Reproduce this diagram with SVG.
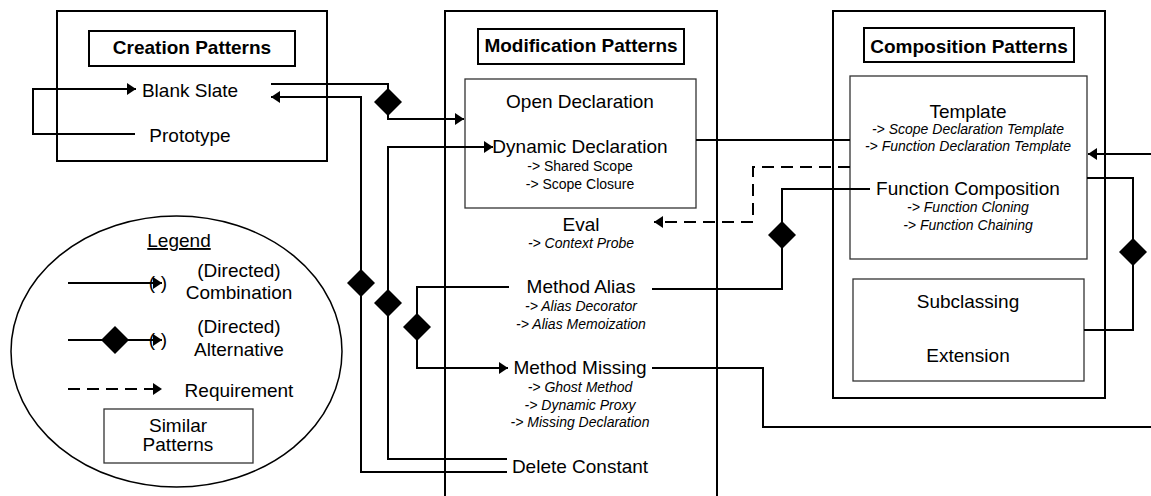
<svg xmlns="http://www.w3.org/2000/svg" width="1151" height="496" viewBox="0 0 1151 496">
<style>
text{font-family:"Liberation Sans",Arial,sans-serif;fill:#000;text-anchor:middle}
.t{font-size:19px}
.b{font-size:19px;font-weight:bold}
.s{font-size:14px;font-style:italic}
.n{font-size:14px}
.outer{fill:#fff;stroke:#000;stroke-width:2}
.title{fill:#fff;stroke:#000;stroke-width:2}
.inner{fill:#fff;stroke:#333;stroke-width:1.3}
.c{fill:none;stroke:#000;stroke-width:2}
.d{fill:none;stroke:#000;stroke-width:2;stroke-dasharray:12 7}
.dia{fill:#000}
</style>
<defs>
<marker id="arr" markerUnits="userSpaceOnUse" markerWidth="10" markerHeight="12" refX="9" refY="6" orient="auto"><path d="M0,0 L9,6 L0,12 z" fill="#000"/></marker>
<path id="dm" d="M0,-14 L14,0 L0,14 L-14,0 z"/>
</defs>
<rect width="1151" height="496" fill="#fff"/>

<g id="creation">
<rect class="outer" x="57" y="11" width="270" height="150"/>
<rect class="title" x="89" y="31" width="206" height="35"/>
<text class="b" x="192" y="54">Creation Patterns</text>
<text class="t" x="190" y="97">Blank Slate</text>
<text class="t" x="190" y="142">Prototype</text>
</g>

<g id="modification">
<rect class="outer" x="445" y="11" width="272" height="495"/>
<rect class="title" x="478" y="29" width="206" height="35"/>
<text class="b" x="581" y="52">Modification Patterns</text>
<rect class="inner" x="465" y="79" width="231" height="129"/>
<text class="t" x="580" y="108">Open Declaration</text>
<text class="t" x="580" y="153">Dynamic Declaration</text>
<text class="n" x="580" y="171">-&gt; Shared Scope</text>
<text class="n" x="580" y="189">-&gt; Scope Closure</text>
<text class="t" x="581" y="231">Eval</text>
<text class="s" x="581" y="248">-&gt; Context Probe</text>
<text class="t" x="581" y="293">Method Alias</text>
<text class="s" x="581" y="311">-&gt; Alias Decorator</text>
<text class="s" x="581" y="329">-&gt; Alias Memoization</text>
<text class="t" x="580" y="374">Method Missing</text>
<text class="s" x="580" y="392">-&gt; Ghost Method</text>
<text class="s" x="580" y="410">-&gt; Dynamic Proxy</text>
<text class="s" x="580" y="427">-&gt; Missing Declaration</text>
<text class="t" x="580" y="473">Delete Constant</text>
</g>

<g id="composition">
<rect class="outer" x="833" y="11" width="272" height="387"/>
<rect class="title" x="864" y="28" width="210" height="34"/>
<text class="b" x="969" y="53">Composition Patterns</text>
<rect class="inner" x="850" y="76" width="237" height="183"/>
<text class="t" x="968" y="118">Template</text>
<text class="s" x="968" y="134">-&gt; Scope Declaration Template</text>
<text class="s" x="968" y="151">-&gt; Function Declaration Template</text>
<text class="t" x="968" y="195">Function Composition</text>
<text class="s" x="968" y="212">-&gt; Function Cloning</text>
<text class="s" x="968" y="230">-&gt; Function Chaining</text>
<rect class="inner" x="853" y="279" width="231" height="102"/>
<text class="t" x="968" y="308">Subclassing</text>
<text class="t" x="968" y="362">Extension</text>
</g>

<g id="legend">
<ellipse cx="176.5" cy="351.5" rx="165.5" ry="135.5" fill="#fff" stroke="#000" stroke-width="1.5"/>
<text class="t" x="179" y="247" text-decoration="underline">Legend</text>
<path class="c" d="M68,283 H162" marker-end="url(#arr)"/>
<text class="t" x="152" y="289">(</text>
<text class="t" x="164" y="289">)</text>
<text class="t" x="239" y="277">(Directed)</text>
<text class="t" x="239" y="299">Combination</text>
<path class="c" d="M68,340 H162" marker-end="url(#arr)"/>
<use href="#dm" x="115" y="340" class="dia"/>
<text class="t" x="152" y="346">(</text>
<text class="t" x="164" y="346">)</text>
<text class="t" x="239" y="333">(Directed)</text>
<text class="t" x="239" y="356">Alternative</text>
<path class="d" d="M68,389 H162" marker-end="url(#arr)"/>
<text class="t" x="239" y="397">Requirement</text>
<rect class="inner" x="104" y="409" width="149" height="54"/>
<text class="t" x="178" y="432">Similar</text>
<text class="t" x="178" y="451">Patterns</text>
</g>

<g id="connectors">
<path class="c" d="M135,134 H33 V89 H136" marker-end="url(#arr)"/>
<path class="c" d="M271,84 H388 V119 H464" marker-end="url(#arr)"/>
<use href="#dm" x="388" y="102" class="dia"/>
<path class="c" d="M507,472 H361 V97 H271" marker-end="url(#arr)"/>
<use href="#dm" x="361" y="283" class="dia"/>
<path class="c" d="M507,459 H388 V147 H493" marker-end="url(#arr)"/>
<use href="#dm" x="388" y="303" class="dia"/>
<path class="c" d="M509,287 H417 V368 H508" marker-end="url(#arr)"/>
<use href="#dm" x="417" y="327" class="dia"/>
<path class="c" d="M652,289 H782 V189 H870"/>
<use href="#dm" x="782" y="235" class="dia"/>
<path class="c" d="M652,368 H763 V427 H1151"/>
<path class="c" d="M1151,154 H1088" marker-end="url(#arr)"/>
<path class="c" d="M696,140 H850"/>
<path class="c" d="M1087,178 H1133 V330 H1084"/>
<use href="#dm" x="1133" y="252" class="dia"/>
<path class="d" d="M850,167 H753 V222 H654" marker-end="url(#arr)"/>
</g>
</svg>
